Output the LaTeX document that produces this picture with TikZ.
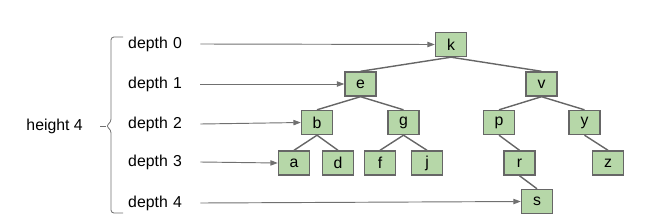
\documentclass[tikz,border=0pt]{standalone}
\usepackage{fontspec}
\setmainfont{Liberation Sans}
\usetikzlibrary{arrows.meta,backgrounds}
\definecolor{BoxFill}{HTML}{B6D7A8}
\definecolor{BoxLine}{HTML}{666666}
\definecolor{ArrowGray}{HTML}{707070}

\begin{document}
\begin{tikzpicture}[
        x=0.03cm, y=-0.03cm,
        font=\fontsize{13.5}{16}\selectfont,
        key/.style={
            draw=BoxLine,
            fill=BoxFill,
            line width=1.2pt,
            minimum width=0.93cm,
            minimum height=0.72cm,
            inner sep=0pt
        },
        depthlbl/.style={anchor=west, inner sep=0pt, text width=2.16cm, align=left},
        parr/.style={-{Triangle[length=2.2mm, width=1.6mm]}, line width=0.8pt, draw=ArrowGray},
        tedge/.style={line width=1.2pt, draw=BoxLine}
    ]
        \useasboundingbox (0,0) rectangle (656,222);

        % depth labels
        \node[depthlbl] (d0) at (128,44) {depth 0};
        \node[depthlbl] (d1) at (128,84) {depth 1};
        \node[depthlbl] (d2) at (128,124) {depth 2};
        \node[depthlbl] (d3) at (128,162) {depth 3};
        \node[depthlbl] (d4) at (128,203) {depth 4};

        % bracket and height
        \coordinate (btop) at (123,37);
        \coordinate (bbot) at (123,213);
        \draw[ArrowGray, line width=0.7pt, rounded corners=2.5pt]
            (btop) -- (111,37) -- (111,122) -- (106,126) -- (111,130) -- (111,213) -- (bbot);
        \draw[ArrowGray, line width=0.7pt] (106,126) -- (100,126);
        \node[anchor=east, inner sep=0pt] (ht) at (83,126) {height 4};

        % keys
        \node[key] (k) at (451,44.5) {k};
        \node[key] (e) at (360.5,84) {e};
        \node[key] (v) at (541.5,84) {v};
        \node[key] (b) at (317,122.5) {b};
        \node[key] (g) at (403.5,122.5) {g};
        \node[key] (p) at (499,122.5) {p};
        \node[key] (y) at (584.5,122.5) {y};
        \node[key] (a) at (294,163) {a};
        \node[key] (d) at (338,163) {d};
        \node[key] (f) at (380,163) {f};
        \node[key] (j) at (427,163) {j};
        \node[key] (r) at (519.5,163) {r};
        \node[key] (z) at (608,163) {z};
        \node[key] (s) at (537,201.5) {s};

        % tree edges behind the keys
        \begin{scope}[on background layer]
            \foreach \u/\w in {k/e,k/v,e/b,e/g,v/p,v/y,b/a,b/d,g/f,g/j,p/r,y/z,r/s}
                \draw[tedge] (\u.south) -- (\w.north);
        \end{scope}

        \draw[parr] (d0.east) -- (k.west);
        \draw[parr] (d1.east) -- (e.west);
        \draw[parr] (d2.east) -- (b.west);
        \draw[parr] (d3.east) -- (a.west);
        \draw[parr] (d4.east) -- (s.west);
    \end{tikzpicture}
\end{document}
